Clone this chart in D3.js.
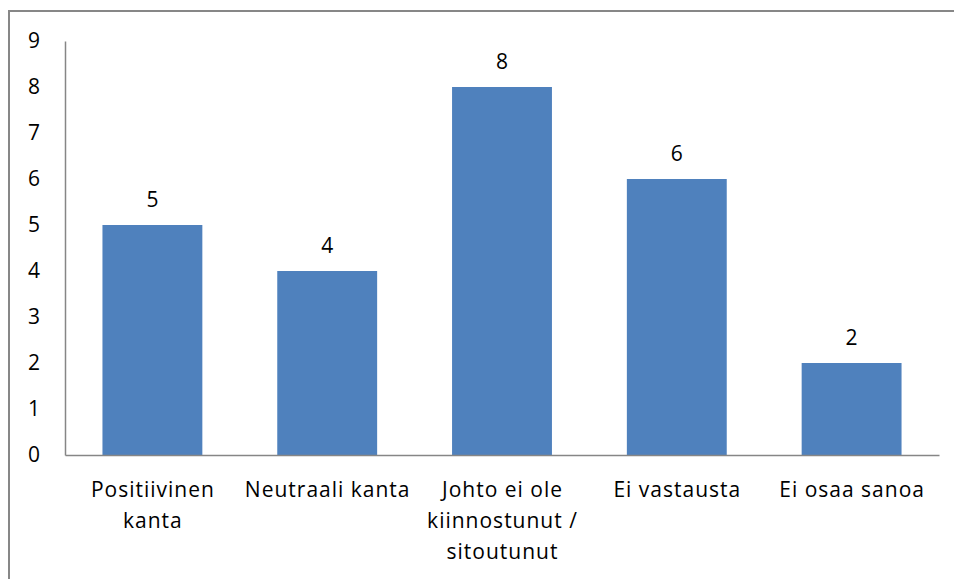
<!DOCTYPE html>
<html>
<head>
<meta charset="utf-8">
<script src="https://cdn.jsdelivr.net/npm/d3@7"></script>
<style>
  html, body { margin: 0; padding: 0; background: #fff; }
  svg { display: block; }
  text { font-family: "Open Sans", sans-serif; fill: #000; }
</style>
</head>
<body>
<svg id="chart" width="954" height="579"></svg>
<script>
// Category labels (line breaks marked with "|"), counts, and y-axis ticks
const categories = [
  "Positiivinen|kanta",
  "Neutraali kanta",
  "Johto ei ole|kiinnostunut /|sitoutunut",
  "Ei vastausta",
  "Ei osaa sanoa"
];
const counts = [5, 4, 8, 6, 2];
const yTicks = [0, 1, 2, 3, 4, 5, 6, 7, 8, 9];

const FONT = "\"Open Sans\", sans-serif";
const FS = "21px";

const svg = d3.select("#chart");

// Outer frame of the chart area
svg.append("rect")
  .attr("x", 9).attr("y", 11)
  .attr("width", 1000).attr("height", 1000)
  .attr("fill", "none")
  .attr("stroke", "#878787")
  .attr("stroke-width", 2);

const plot = { left: 65, right: 939, top: 41, bottom: 455 };

const x = d3.scaleBand()
  .domain(categories)
  .range([plot.left, plot.right])
  .paddingInner(0.75 / 1.75)
  .paddingOuter(0.75 / 3.5);

const y = d3.scaleLinear()
  .domain([0, 9])
  .range([plot.bottom, plot.top]);

// Bars
svg.append("g").selectAll("rect")
  .data(categories)
  .join("rect")
  .attr("x", d => x(d))
  .attr("y", (d, i) => y(counts[i]))
  .attr("width", x.bandwidth())
  .attr("height", (d, i) => y(0) - y(counts[i]))
  .attr("fill", "#4F81BD");

// Value labels above the bars
svg.append("g").selectAll("text")
  .data(categories)
  .join("text")
  .attr("x", d => x(d) + x.bandwidth() / 2)
  .attr("y", (d, i) => y(counts[i]) - 18)
  .attr("text-anchor", "middle")
  .style("font-size", FS)
  .text((d, i) => counts[i]);

// Y axis: line and tick labels, no tick marks
const yAxis = svg.append("g")
  .attr("transform", `translate(${plot.left},0)`)
  .call(d3.axisLeft(y).tickValues(yTicks).tickSize(0).tickPadding(25).tickFormat(d3.format("d")));
yAxis.select(".domain").attr("stroke", "#868686").attr("stroke-width", 1.5);
yAxis.selectAll("text")
  .style("font-size", FS)
  .style("font-family", FONT)
  .attr("fill", "#000");

// X axis: baseline and wrapped category labels
const xAxis = svg.append("g")
  .attr("transform", `translate(0,${plot.bottom})`)
  .call(d3.axisBottom(x).tickSize(0).tickFormat(""));
xAxis.select(".domain").attr("stroke", "#868686").attr("stroke-width", 1.5);

const labels = svg.append("g").selectAll("text")
  .data(categories)
  .join("text")
  .attr("text-anchor", "middle")
  .style("font-size", FS)
  .style("letter-spacing", "1px")
  .attr("x", d => x(d) + x.bandwidth() / 2)
  .attr("y", plot.bottom + 42);
labels.each(function(d) {
  const t = d3.select(this);
  const cx = x(d) + x.bandwidth() / 2 + 0.5;
  d.split("|").forEach((line, i) => {
    t.append("tspan")
      .attr("x", cx)
      .attr("dy", i === 0 ? 0 : 31)
      .text(line);
  });
});
</script>
</body>
</html>
